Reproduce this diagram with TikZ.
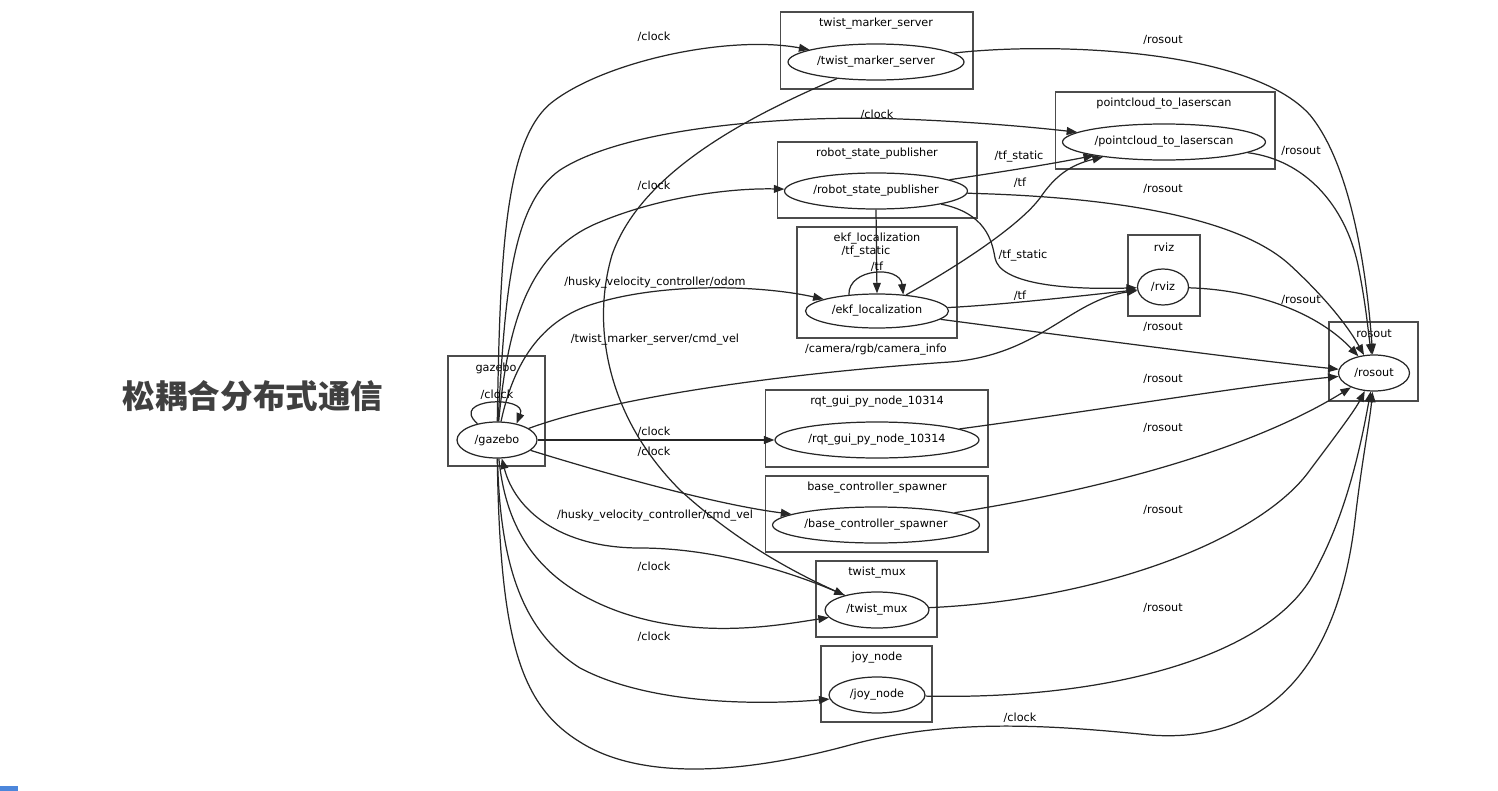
\documentclass[tikz,border=0pt]{standalone}
\usepackage{fontspec}
\setmainfont{DejaVu Sans}
\newfontfamily\cjk{Noto Sans CJK SC}
\usepackage{tikz}
\usetikzlibrary{shapes.geometric}
\usetikzlibrary{arrows.meta}

\tikzset{
    grp/.style={draw=black!70, line width=0.6pt, rectangle, inner sep=0pt},
    nd/.style={draw=black!85, line width=0.7pt, ellipse, inner sep=0pt, minimum height=0.72cm, font=\fontsize{6.4}{7.5}\selectfont},
    ttl/.style={inner sep=0pt, font=\fontsize{6.4}{7.5}\selectfont},
    tpc/.style={inner sep=0pt, font=\fontsize{6.4}{7.5}\selectfont},
    msg/.style={draw=black!85, line width=0.7pt, -{Triangle[length=6pt,width=4.5pt]}}
}

\begin{document}
\begin{tikzpicture}[x=0.02cm, y=-0.02cm]
        \useasboundingbox (0,0) rectangle (1498,791);

        \node[font=\cjk\bfseries\fontsize{18.5}{20}\selectfont, text=black!75] (title) at (253,396) {松耦合分布式通信};
        \fill[blue!60!cyan!80!black, opacity=0.7] (0,786) rectangle (18,791);

        % Clusters
        \node[grp, minimum width=3.86cm, minimum height=1.54cm] (tmsg) at (876.5,50.5) {};
        \node[grp, minimum width=4.40cm, minimum height=1.54cm] (pclg) at (1165,130.5) {};
        \node[grp, minimum width=4.00cm, minimum height=1.52cm] (rspg) at (877,180) {};
        \node[grp, minimum width=3.20cm, minimum height=2.22cm] (ekfg) at (877,282.5) {};
        \node[grp, minimum width=1.44cm, minimum height=1.62cm] (rvzg) at (1164,275.5) {};
        \node[grp, minimum width=1.78cm, minimum height=1.58cm] (rosg) at (1373.5,361.5) {};
        \node[grp, minimum width=1.94cm, minimum height=2.20cm] (gzg) at (496.5,411) {};
        \node[grp, minimum width=4.46cm, minimum height=1.54cm] (rqtg) at (876.5,428.5) {};
        \node[grp, minimum width=4.46cm, minimum height=1.52cm] (bcsg) at (876.5,514) {};
        \node[grp, minimum width=2.42cm, minimum height=1.52cm] (muxg) at (876.5,599) {};
        \node[grp, minimum width=2.22cm, minimum height=1.52cm] (joyg) at (876.5,684) {};

        \node[ttl] (tmst) at (876,24) {twist\_marker\_server};
        \node[ttl] (pclt) at (1164,104) {pointcloud\_to\_laserscan};
        \node[ttl] (rspt) at (877,154) {robot\_state\_publisher};
        \node[ttl] (ekft) at (877,239) {ekf\_localization};
        \node[ttl] (rvzt) at (1164,247) {rviz};
        \node[ttl] (rost) at (1374,334) {rosout};
        \node[ttl] (gzt) at (496,368) {gazebo};
        \node[ttl] (rqtt) at (877,402) {rqt\_gui\_py\_node\_10314};
        \node[ttl] (bcst) at (877,488) {base\_controller\_spawner};
        \node[ttl] (muxt) at (877,573) {twist\_mux};
        \node[ttl] (joyt) at (877,658) {joy\_node};

        % Nodes
        \node[nd, minimum width=3.52cm] (tms) at (876,62) {/twist\_marker\_server};
        \node[nd, minimum width=4.06cm] (pcl) at (1164,142) {/pointcloud\_to\_laserscan};
        \node[nd, minimum width=3.66cm] (rsp) at (876,191) {/robot\_state\_publisher};
        \node[nd, minimum width=2.86cm, minimum height=0.68cm] (ekf) at (877,311) {/ekf\_localization};
        \node[nd, minimum width=1.02cm] (rvz) at (1163,287) {/rviz};
        \node[nd, minimum width=1.42cm] (ros) at (1374,373) {/rosout};
        \node[nd, minimum width=1.60cm] (gz) at (497,440) {/gazebo};
        \node[nd, minimum width=4.08cm] (rqt) at (877,440) {/rqt\_gui\_py\_node\_10314};
        \node[nd, minimum width=4.14cm] (bcs) at (876,525) {/base\_controller\_spawner};
        \node[nd, minimum width=2.08cm] (mux) at (877,610) {/twist\_mux};
        \node[nd, minimum width=1.92cm] (joy) at (877,695) {/joy\_node};

        % From gazebo
        \draw[msg] (gz) .. controls (500,250) and (505,135) .. (555,100) .. controls (610,60) and (730,35) .. (tms);
        \draw[msg] (gz) .. controls (505,300) and (510,205) .. (560,170) .. controls (630,125) and (800,115) .. (900,119) .. controls (980,122) and (1040,128) .. (pcl);
        \draw[msg] (gz) .. controls (508,320) and (530,250) .. (600,222) .. controls (660,197) and (730,188) .. (rsp);
        \draw[msg] (gz) .. controls (510,380) and (530,325) .. (590,305) .. controls (660,282) and (760,285) .. (ekf);
        \draw[msg] (gz) .. controls (620,395) and (800,372) .. (950,362) .. controls (1040,355) and (1070,300) .. (rvz);
        \draw[msg] (gz) -- (rqt);
        \draw[msg] (gz) .. controls (620,478) and (720,505) .. (bcs);
        \draw[msg] (gz) .. controls (505,520) and (530,580) .. (620,612) .. controls (700,640) and (780,625) .. (mux);
        \draw[msg] (gz) .. controls (500,560) and (520,630) .. (580,668) .. controls (650,705) and (760,705) .. (joy);
        \draw[msg] (gz) .. controls (500,640) and (520,705) .. (580,742) .. controls (640,780) and (740,775) .. (850,745) .. controls (950,718) and (1050,725) .. (1150,735) .. controls (1280,745) and (1340,650) .. (1355,520) .. controls (1362,460) and (1370,420) .. (ros);
        \draw[msg] (gz.140) .. controls (448,398) and (528,395) .. (gz.40);
        \draw[msg] (mux) .. controls (800,575) and (720,548) .. (640,548) .. controls (560,548) and (515,510) .. (gz);

        % Other topics
        \draw[msg] (tms) .. controls (740,120) and (640,175) .. (612,255) .. controls (590,330) and (610,420) .. (680,490) .. controls (740,545) and (800,575) .. (mux);
        \draw[msg] (rsp) .. controls (1000,172) and (1040,166) .. (pcl);
        \draw[msg] (rsp.south) -- (ekf.north);
        \draw[msg] (ekf.150) .. controls (848,268) and (900,265) .. (ekf.32);
        \draw[msg] (ekf) .. controls (960,265) and (1020,225) .. (1040,198) .. controls (1055,176) and (1070,165) .. (pcl);
        \draw[msg] (rsp) .. controls (985,213) and (992,240) .. (995,258) .. controls (1000,283) and (1060,290) .. (rvz);
        \draw[msg] (ekf) .. controls (1000,305) and (1080,296) .. (rvz);

        % To rosout
        \draw[msg] (tms) .. controls (1050,42) and (1250,48) .. (1310,115) .. controls (1355,170) and (1368,290) .. (ros);
        \draw[msg] (pcl) .. controls (1305,160) and (1345,205) .. (1358,265) .. controls (1366,305) and (1368,330) .. (ros);
        \draw[msg] (rsp) .. controls (1080,196) and (1230,210) .. (1290,265) .. controls (1330,302) and (1350,330) .. (ros);
        \draw[msg] (rvz) .. controls (1260,290) and (1320,315) .. (ros);
        \draw[msg] (ekf) .. controls (1060,335) and (1250,360) .. (ros);
        \draw[msg] (rqt) .. controls (1100,410) and (1250,385) .. (ros);
        \draw[msg] (bcs) .. controls (1100,490) and (1250,450) .. (ros);
        \draw[msg] (mux) .. controls (1100,600) and (1260,540) .. (1310,470) .. controls (1340,430) and (1355,410) .. (ros);
        \draw[msg] (joy) .. controls (1100,700) and (1260,660) .. (1310,580) .. controls (1345,520) and (1360,450) .. (ros);

        % Topic labels
        \node[tpc] (l1) at (654,37) {/clock};
        \node[tpc] (l2) at (877,115) {/clock};
        \node[tpc] (l3) at (654,186) {/clock};
        \node[tpc] (l4) at (655,283) {/husky\_velocity\_controller/odom};
        \node[tpc] (l5) at (655,340) {/twist\_marker\_server/cmd\_vel};
        \node[tpc] (l6) at (876,350) {/camera/rgb/camera\_info};
        \node[tpc] (l7) at (497,395) {/clock};
        \node[tpc] (l8) at (654,432) {/clock};
        \node[tpc] (l9) at (654,452) {/clock};
        \node[tpc] (l10) at (655,516) {/husky\_velocity\_controller/cmd\_vel};
        \node[tpc] (l11) at (654,567) {/clock};
        \node[tpc] (l12) at (654,637) {/clock};
        \node[tpc] (l13) at (1020,718) {/clock};
        \node[tpc] (l14) at (866,252) {/tf\_static};
        \node[tpc] (l15) at (877,267) {/tf};
        \node[tpc] (l16) at (1019,157) {/tf\_static};
        \node[tpc] (l17) at (1020,183) {/tf};
        \node[tpc] (l18) at (1023,256) {/tf\_static};
        \node[tpc] (l19) at (1020,296) {/tf};
        \node[tpc] (r1) at (1163,40) {/rosout};
        \node[tpc] (r2) at (1301,151) {/rosout};
        \node[tpc] (r3) at (1163,189) {/rosout};
        \node[tpc] (r4) at (1301,300) {/rosout};
        \node[tpc] (r5) at (1163,327) {/rosout};
        \node[tpc] (r6) at (1163,379) {/rosout};
        \node[tpc] (r7) at (1163,428) {/rosout};
        \node[tpc] (r8) at (1163,510) {/rosout};
        \node[tpc] (r9) at (1163,608) {/rosout};
\end{tikzpicture}
\end{document}
